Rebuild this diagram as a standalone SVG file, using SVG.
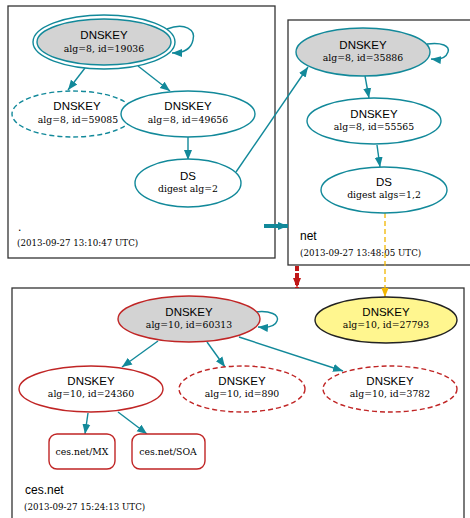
<svg xmlns="http://www.w3.org/2000/svg" width="470" height="518" viewBox="0 0 470 518">
<defs>
<style>
.cl{fill:#fff;stroke:#333;stroke-width:1.3}
.t1{font-family:"Liberation Sans",Arial,sans-serif;font-size:11.5px;fill:#000;text-anchor:middle}
.t2{font-family:"DejaVu Serif",serif;font-size:9.3px;fill:#000;text-anchor:middle}
.cll{font-family:"Liberation Sans",Arial,sans-serif;font-size:12px;fill:#000}
.cld{font-family:"DejaVu Serif",serif;font-size:8.7px;fill:#000}
.sec{stroke:#12899a;stroke-width:1.4;fill:#fff}
.bog{stroke:#c02525;stroke-width:1.4;fill:#fff}
.sep{fill:#d3d3d3}
.dash{stroke-dasharray:5,3}
.e{fill:none;stroke:#12899a;stroke-width:1.4}
</style>
<marker id="at" viewBox="0 0 10 10" refX="10" refY="5" markerWidth="10" markerHeight="10" markerUnits="userSpaceOnUse" orient="auto"><path d="M0,1 L10,5 L0,9 Z" fill="#12899a"/></marker>
<marker id="ar" viewBox="0 0 10 10" refX="10" refY="5" markerWidth="10" markerHeight="10" markerUnits="userSpaceOnUse" orient="auto"><path d="M0,1 L10,5 L0,9 Z" fill="#c01818"/></marker>
<marker id="ao" viewBox="0 0 10 10" refX="10" refY="5" markerWidth="9" markerHeight="9" markerUnits="userSpaceOnUse" orient="auto"><path d="M0,1 L10,5 L0,9 Z" fill="#f2b600"/></marker>
</defs>
<rect width="470" height="518" fill="#fff"/>

<g id="cluster-root">
<rect class="cl" x="8" y="6" width="267" height="252"/>
<text class="cll" x="18" y="231">.</text>
<text class="cld" x="17" y="246">(2013-09-27 13:10:47 UTC)</text>
</g>
<g id="cluster-net">
<rect class="cl" x="288" y="20" width="185" height="245"/>
<text class="cll" x="300" y="240">net</text>
<text class="cld" x="300" y="256">(2013-09-27 13:48:05 UTC)</text>
</g>
<g id="cluster-cesnet">
<rect class="cl" x="12" y="288" width="452" height="235"/>
<text class="cll" x="25" y="494">ces.net</text>
<text class="cld" x="24" y="510">(2013-09-27 15:24:13 UTC)</text>
</g>

<g id="connectors">
<path class="e" d="M167,29 C185,22 196,30 193,40 C191,50 182,53 172,53" marker-end="url(#at)"/>
<path class="e" d="M85,68 L68,90" marker-end="url(#at)"/>
<path class="e" d="M138,66 L170,91" marker-end="url(#at)"/>
<path class="e" d="M188,137 L188,160" marker-end="url(#at)"/>
<path class="e" d="M236,172 L308,67" marker-end="url(#at)"/>
<path class="e" d="M264,226 L288,226" style="stroke-width:4" marker-end="url(#at)"/>
<path class="e" d="M427,44 C442,42 450,46 448,52 C446,58 440,60 431,59" marker-end="url(#at)"/>
<path class="e" d="M365,76 L369,98" marker-end="url(#at)"/>
<path class="e" d="M377,145 L380,167" marker-end="url(#at)"/>
<path d="M385,213 L385,297" fill="none" stroke="#f2b600" stroke-width="1.3" stroke-dasharray="5,3" marker-end="url(#ao)"/>
<path d="M297,266 L297,288" fill="none" stroke="#c01818" stroke-width="4" stroke-dasharray="5,2" marker-end="url(#ar)"/>
<path class="e" d="M255,312 C270,310 280,315 277,321 C275,327 268,328 258,327" marker-end="url(#at)"/>
<path class="e" d="M158,341 L122,367" marker-end="url(#at)"/>
<path class="e" d="M207,342 L225,367" marker-end="url(#at)"/>
<path class="e" d="M239,337 L343,371" marker-end="url(#at)"/>
<path class="e" d="M88,413 L85,434" marker-end="url(#at)"/>
<path class="e" d="M118,412 L147,434" marker-end="url(#at)"/>
</g>

<g id="dnskey-19036">
<ellipse class="sec" cx="104" cy="42" rx="71" ry="27"/>
<ellipse class="sec sep" cx="104" cy="42" rx="67" ry="23"/>
<text class="t1" x="104" y="39">DNSKEY</text>
<text class="t2" x="104" y="52">alg=8, id=19036</text>
</g>
<g id="dnskey-59085">
<ellipse class="sec dash" cx="73" cy="114" rx="61" ry="23"/>
<text class="t1" x="77" y="110">DNSKEY</text>
<text class="t2" x="78" y="123">alg=8, id=59085</text>
</g>
<g id="dnskey-49656">
<ellipse class="sec" cx="188" cy="114" rx="67" ry="23"/>
<text class="t1" x="188" y="110">DNSKEY</text>
<text class="t2" x="188" y="123">alg=8, id=49656</text>
</g>
<g id="ds-root">
<ellipse class="sec" cx="188" cy="183" rx="53" ry="24"/>
<text class="t1" x="188" y="180">DS</text>
<text class="t2" x="188" y="192">digest alg=2</text>
</g>
<g id="dnskey-35886">
<ellipse class="sec sep" cx="363" cy="52" rx="67" ry="24"/>
<text class="t1" x="363" y="49">DNSKEY</text>
<text class="t2" x="363" y="61">alg=8, id=35886</text>
</g>
<g id="dnskey-55565">
<ellipse class="sec" cx="374" cy="121" rx="67" ry="23"/>
<text class="t1" x="374" y="118">DNSKEY</text>
<text class="t2" x="374" y="130">alg=8, id=55565</text>
</g>
<g id="ds-net">
<ellipse class="sec" cx="384" cy="190" rx="63" ry="23"/>
<text class="t1" x="384" y="186">DS</text>
<text class="t2" x="384" y="198">digest algs=1,2</text>
</g>
<g id="dnskey-60313">
<ellipse class="bog sep" cx="189" cy="319" rx="71" ry="23"/>
<text class="t1" x="189" y="316">DNSKEY</text>
<text class="t2" x="189" y="328">alg=10, id=60313</text>
</g>
<g id="dnskey-27793">
<ellipse cx="386" cy="320" rx="71" ry="23" fill="#fff68f" stroke="#222" stroke-width="1.4"/>
<text class="t1" x="386" y="316">DNSKEY</text>
<text class="t2" x="386" y="328">alg=10, id=27793</text>
</g>
<g id="dnskey-24360">
<ellipse class="bog" cx="91" cy="389" rx="72" ry="23"/>
<text class="t1" x="91" y="385">DNSKEY</text>
<text class="t2" x="91" y="397">alg=10, id=24360</text>
</g>
<g id="dnskey-890">
<ellipse class="bog dash" cx="242" cy="389" rx="63" ry="23"/>
<text class="t1" x="242" y="385">DNSKEY</text>
<text class="t2" x="242" y="397">alg=10, id=890</text>
</g>
<g id="dnskey-3782">
<ellipse class="bog dash" cx="390" cy="389" rx="67" ry="23"/>
<text class="t1" x="390" y="385">DNSKEY</text>
<text class="t2" x="390" y="397">alg=10, id=3782</text>
</g>
<g id="rrset-mx">
<rect class="bog" x="49" y="434" width="66" height="35" rx="8"/>
<text class="t2" x="82" y="455">ces.net/MX</text>
</g>
<g id="rrset-soa">
<rect class="bog" x="132" y="434" width="73" height="35" rx="8"/>
<text class="t2" x="168" y="455">ces.net/SOA</text>
</g>
</svg>
